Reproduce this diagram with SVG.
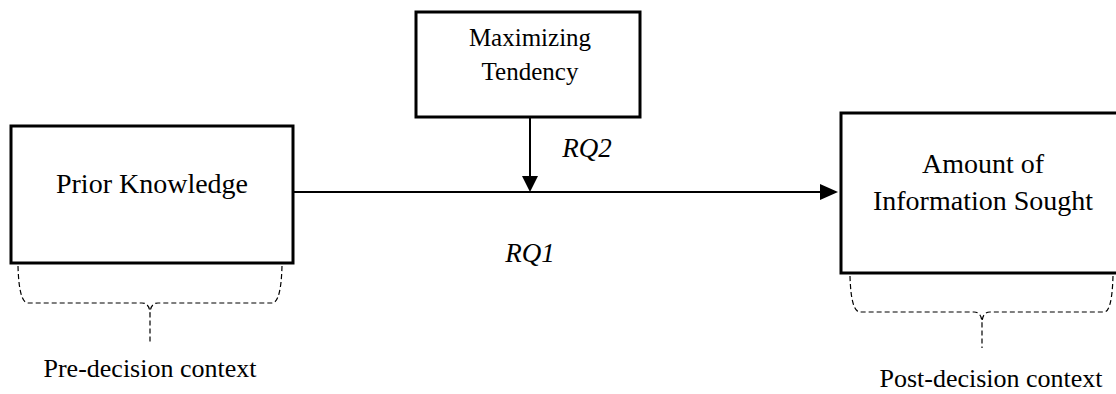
<svg xmlns="http://www.w3.org/2000/svg" width="1116" height="394" viewBox="0 0 1116 394">
<style>
.box{fill:#fff;stroke:#000;stroke-width:3}
.t{font-family:"Liberation Serif","Times New Roman",serif;fill:#000;text-anchor:middle}
.i{font-style:italic}
.conn{stroke:#000;stroke-width:2;fill:none}
.brace{stroke:#000;stroke-width:1.2;fill:none;stroke-dasharray:5 3}
</style>
<rect width="1116" height="394" fill="#fff"/>
<g id="prior">
<rect class="box" x="11" y="126" width="282" height="137"/>
<text class="t" x="152" y="193" font-size="28">Prior Knowledge</text>
</g>
<g id="maximizing">
<rect class="box" x="416" y="12" width="224" height="105"/>
<text class="t" x="530" y="46" font-size="25">Maximizing</text>
<text class="t" x="530" y="80" font-size="25">Tendency</text>
</g>
<g id="amount">
<rect class="box" x="841" y="113" width="290" height="160"/>
<text class="t" x="983" y="173" font-size="28">Amount of</text>
<text class="t" x="983" y="210" font-size="28">Information Sought</text>
</g>
<g id="connectors">
<line class="conn" x1="294" y1="192" x2="820" y2="192"/>
<path d="M820,184 L838,192 L820,200 Z" fill="#000"/>
<line class="conn" x1="530" y1="118" x2="530" y2="176"/>
<path d="M522,176 L530,192 L538,176 Z" fill="#000"/>
</g>
<g id="labels">
<text class="t i" x="587" y="157" font-size="27">RQ2</text>
<text class="t i" x="530" y="262" font-size="27">RQ1</text>
</g>
<g id="pre-context">
<path class="brace" d="M18,266 Q19,303 28,303 L142,303 Q150,303 150,315 L150,342 M282,266 Q281,303 272,303 L158,303 Q150,303 150,315"/>
<text class="t" x="150" y="377" font-size="26">Pre-decision context</text>
</g>
<g id="post-context">
<path class="brace" d="M850,276 Q851,312 860,312 L974,312 Q982,312 982,324 L982,348 M1113,276 Q1112,312 1104,312 L990,312 Q982,312 982,324"/>
<text class="t" x="991" y="387" font-size="26">Post-decision context</text>
</g>
</svg>
